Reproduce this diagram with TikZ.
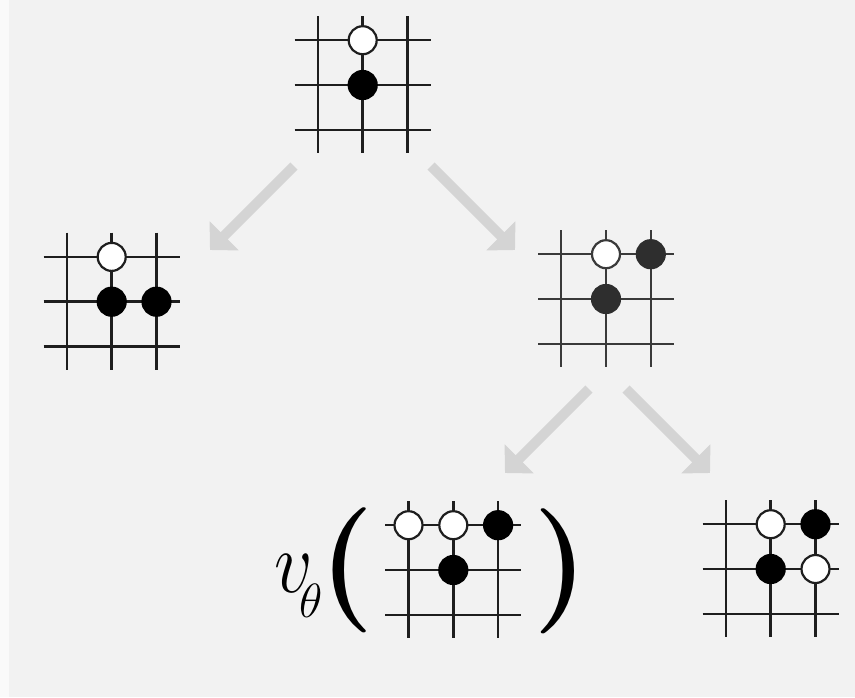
\documentclass[tikz,border=0pt]{standalone}
\usepackage{fix-cm}
\usetikzlibrary{arrows.meta,calc}
\definecolor{bgcol}{HTML}{F2F2F2}
\definecolor{edgecol}{HTML}{FAFAFA}
\definecolor{arrowcol}{HTML}{D4D4D4}
\definecolor{gridcol}{HTML}{1E1E1E}
\definecolor{softblack}{HTML}{2E2E2E}
\definecolor{softgrid}{HTML}{3A3A3A}
\newcommand\goboard[2]{%
  \begin{scope}[shift={(#1)}]
    \foreach \k in {-1,0,1} {
      \draw[gridline,#2] (-68,\k*44.8) -- (68,\k*44.8);
      \draw[gridline,#2] (\k*44.8,-69) -- (\k*44.8,68);
    }
  \end{scope}}
\begin{document}
\begin{tikzpicture}[x=1pt,y=-1pt,
  gridline/.style={draw=gridcol,line width=2.5pt},
  boardbox/.style={minimum size=135pt,inner sep=0pt},
  wstone/.style={circle,draw=gridcol,fill=white,line width=2.2pt,minimum size=28pt,inner sep=0pt},
  bstone/.style={circle,draw=black,fill=black,line width=2.2pt,minimum size=28pt,inner sep=0pt},
  gstone/.style={circle,draw=softblack,fill=softblack,line width=2.2pt,minimum size=28pt,inner sep=0pt},
  bigarrow/.style={draw=arrowcol,line width=10pt,-{Triangle[length=20pt,width=40pt,fill=arrowcol]}},
  paren/.style={inner sep=0pt,font=\fontsize{125}{125}\selectfont\bfseries},
  vlabel/.style={inner sep=0pt,anchor=base west,font=\fontsize{88}{88}\selectfont}]
\useasboundingbox (0,0) rectangle (855,697);
\fill[bgcol] (0,0) rectangle (855,697);
\fill[edgecol] (0,0) rectangle (9,697);

% boards
\node[boardbox] (top) at (362.7,85) {};
\node[boardbox] (left) at (111.7,301.7) {};
\node[boardbox] (mid) at (606,299) {};
\node[boardbox] (bmid) at (453.3,570) {};
\node[boardbox] (bright) at (770.7,569) {};

\goboard{top}{}
\goboard{left}{}
\goboard{mid}{draw=softgrid}
\goboard{bmid}{}
\goboard{bright}{}

% stones
\node[wstone] (t1) at ($(top)+(0,-44.8)$) {};
\node[bstone] (t2) at (top) {};

\node[wstone] (l1) at ($(left)+(0,-44.8)$) {};
\node[bstone] (l2) at (left) {};
\node[bstone] (l3) at ($(left)+(44.8,0)$) {};

\node[wstone,draw=softgrid] (m1) at ($(mid)+(0,-44.8)$) {};
\node[gstone] (m2) at ($(mid)+(44.8,-44.8)$) {};
\node[gstone] (m3) at (mid) {};

\node[wstone] (bm1) at ($(bmid)+(-44.8,-44.8)$) {};
\node[wstone] (bm2) at ($(bmid)+(0,-44.8)$) {};
\node[bstone] (bm3) at ($(bmid)+(44.8,-44.8)$) {};
\node[bstone] (bm4) at (bmid) {};

\node[wstone] (br1) at ($(bright)+(0,-44.8)$) {};
\node[bstone] (br2) at ($(bright)+(44.8,-44.8)$) {};
\node[bstone] (br3) at (bright) {};
\node[wstone] (br4) at ($(bright)+(44.8,0)$) {};

% value label
\node[vlabel] (v) at (274,592) {$\scalebox{0.86}[1]{$v$}_{\hspace{-13pt}\raisebox{-12pt}{\scalebox{0.78}{$\scriptstyle\theta$}}}$};
\node[paren] (lp) at (347,570) {(};
\node[paren] (rp) at (561,571) {)};

% arrows
\coordinate (a1s) at (294,166);
\coordinate (a1e) at (210,250);
\coordinate (a2s) at (431,166);
\coordinate (a2e) at (515,250);
\coordinate (a3s) at (589,389);
\coordinate (a3e) at (505,473);
\coordinate (a4s) at (626,389);
\coordinate (a4e) at (710,473);
\draw[bigarrow] (a1s) -- (a1e);
\draw[bigarrow] (a2s) -- (a2e);
\draw[bigarrow] (a3s) -- (a3e);
\draw[bigarrow] (a4s) -- (a4e);
\end{tikzpicture}
\end{document}
